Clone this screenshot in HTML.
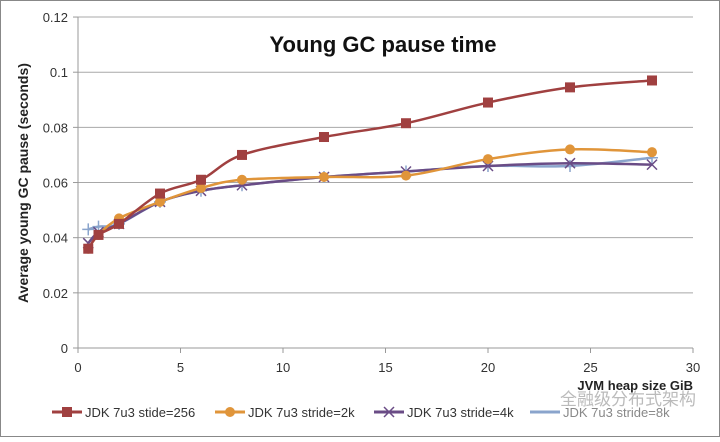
<!DOCTYPE html>
<html><head><meta charset="utf-8"><style>
body{margin:0;background:#fff}
svg text{font-family:"Liberation Sans","Noto Sans CJK SC",sans-serif}
</style></head><body>
<svg id="s" width="720" height="437" xmlns="http://www.w3.org/2000/svg">
<rect x="0.5" y="0.5" width="719" height="436" fill="#fff" stroke="#888"/>
<g id="grid" stroke="#a8a8a8" stroke-width="1"></g>
<line x1="78" y1="17" x2="78" y2="348" stroke="#999"/>
<line x1="78" y1="348" x2="693" y2="348" stroke="#999"/>
<g id="lbl" font-size="13" fill="#333"></g>
<text x="383" y="52" font-size="22" font-weight="bold" text-anchor="middle" fill="#111">Young GC pause time</text>
<text x="28" y="183" font-size="14" font-weight="bold" text-anchor="middle" fill="#222" transform="rotate(-90 28 183)">Average  young GC pause (seconds)</text>
<text x="693" y="390" font-size="13" font-weight="bold" text-anchor="end" fill="#222">JVM heap size GiB</text>
<g id="series"></g>
<g font-size="13" fill="#333">
<line x1="52" y1="412" x2="82" y2="412" stroke="#a04040" stroke-width="3"/><rect x="62" y="407" width="10" height="10" fill="#a04040"/>
<text x="85" y="417">JDK 7u3 stide=256</text>
<line x1="215" y1="412" x2="245" y2="412" stroke="#e0953a" stroke-width="3"/><circle cx="230" cy="412" r="5" fill="#e0953a"/>
<text x="248" y="417">JDK 7u3 stride=2k</text>
<line x1="374" y1="412" x2="404" y2="412" stroke="#6a4c86" stroke-width="3"/><path d="M384 407l10 10M394 407l-10 10" stroke="#6a4c86" stroke-width="1.5"/>
<text x="407" y="417">JDK 7u3 stride=4k</text>
<line x1="530" y1="412" x2="560" y2="412" stroke="#8aa4cc" stroke-width="3"/>
<text x="563" y="417" fill="#888">JDK 7u3 stride=8k</text>
<text x="560" y="405" font-size="17" fill="#bbb">全融级分布式架构</text>
</g>
</svg>
<script>
const NS="http://www.w3.org/2000/svg";
const X=x=>78+20.5*x, Y=y=>348-2758*y;
const g=document.getElementById('grid'),l=document.getElementById('lbl');
function el(p,t,a,txt){const e=document.createElementNS(NS,t);for(const k in a)e.setAttribute(k,a[k]);if(txt!=null)e.textContent=txt;p.appendChild(e);return e;}
["0","0.02","0.04","0.06","0.08","0.1","0.12"].forEach((t,i)=>{const y=Y(i*0.02);if(i>0)el(g,'line',{x1:78,x2:693,y1:y,y2:y});el(l,'line',{x1:73,x2:78,y1:y,y2:y,stroke:'#999'});el(l,'text',{x:68,y:y+5,'text-anchor':'end'},t);});
[0,5,10,15,20,25,30].forEach(v=>{const x=X(v);el(l,'line',{x1:x,x2:x,y1:348,y2:353,stroke:'#999'});el(l,'text',{x:x,y:372,'text-anchor':'middle'},v);});
const xs=[0.5,1,2,4,6,8,12,16,20,24,28];
const S=[
{c:'#a04040',m:'sq',d:[.036,.041,.045,.056,.061,.070,.0765,.0815,.089,.0945,.097]},
{c:'#e0953a',m:'ci',d:[.036,.041,.047,.053,.058,.061,.062,.0625,.0685,.072,.071]},
{c:'#6a4c86',m:'x',d:[.038,.042,.045,.053,.057,.059,.062,.064,.066,.067,.0665]},
{c:'#8aa4cc',m:'+',d:[.043,.044,.045,.053,.057,.059,.062,.064,.066,.066,.069]}];
const sg=document.getElementById('series');
S.reverse().forEach(s=>{
 const p=xs.map((x,i)=>[X(x),Y(s.d[i])]);
 let d='M'+p[0];
 for(let i=0;i<p.length-1;i++){const p0=p[i-1]||p[i],p1=p[i],p2=p[i+1],p3=p[i+2]||p2;
  d+=` C${p1[0]+(p2[0]-p0[0])/6},${p1[1]+(p2[1]-p0[1])/6} ${p2[0]-(p3[0]-p1[0])/6},${p2[1]-(p3[1]-p1[1])/6} ${p2[0]},${p2[1]}`;}
 el(sg,'path',{d:d,fill:'none',stroke:s.c,'stroke-width':2.5});
 p.forEach(([x,y])=>{
  if(s.m=='sq')el(sg,'rect',{x:x-5,y:y-5,width:10,height:10,fill:s.c});
  else if(s.m=='ci')el(sg,'circle',{cx:x,cy:y,r:5,fill:s.c});
  else if(s.m=='x')el(sg,'path',{d:`M${x-5} ${y-5}l10 10M${x+5} ${y-5}l-10 10`,stroke:s.c,'stroke-width':1.5});
  else el(sg,'path',{d:`M${x-6} ${y}h12M${x} ${y-6}v12`,stroke:s.c,'stroke-width':1.5});
 });
});
</script>
</body></html>
